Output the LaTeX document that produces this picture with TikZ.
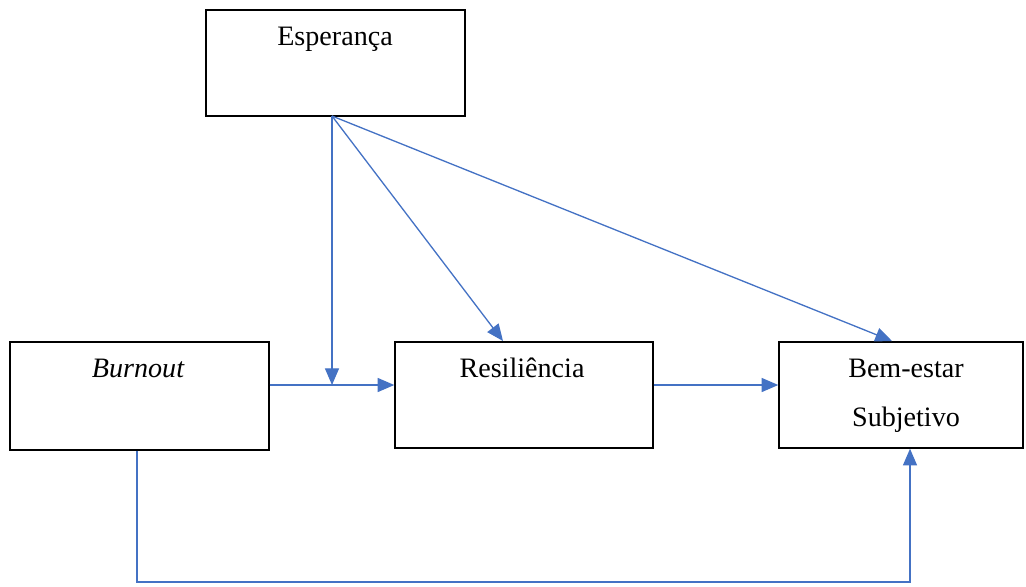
\documentclass[tikz,border=0pt]{standalone}
\usepackage{fontspec}
\setmainfont{Liberation Serif}
\usetikzlibrary{arrows.meta}
\definecolor{linkblue}{HTML}{4472C4}
\tikzset{
  box/.style={draw, line width=0.85pt, inner sep=0pt, align=center},
  lbl/.style={anchor=base, inner sep=0pt},
  link/.style={draw=linkblue, line width=0.75pt, -{Triangle[length=9.5pt,width=8pt]}, linkblue},
}
\begin{document}
\begin{tikzpicture}[x=0.02cm, y=-0.02cm, font=\fontsize{16}{28}\selectfont]
\useasboundingbox (0,0) rectangle (1026,586);
\node[box, minimum width=5.18cm, minimum height=2.12cm] (esp) at (335.5,63) {};
\node[box, minimum width=5.18cm, minimum height=2.16cm] (burn) at (139.5,396) {};
\node[box, minimum width=5.16cm, minimum height=2.12cm] (res) at (524,395) {};
\node[box, minimum width=4.88cm, minimum height=2.12cm] (bem) at (901,395) {};

\node[lbl] (espT) at (335,45) {Esperança};
\node[lbl] (burnT) at (138,377) {\itshape Burnout};
\node[lbl] (resT) at (522,377) {Resiliência};
\node[lbl] (bemT) at (906,377) {Bem-estar};
\node[lbl] (subT) at (906,426) {Subjetivo};

\coordinate (src) at (332,116);
\coordinate (join) at (332,385);
\coordinate (low) at (137,582);

\draw[link] (src) -- (join);
\draw[link] (src) -- (503,341);
\draw[link] (src) -- (892,341);
\draw[link] (burn.east |- join) -- (res.west |- join);
\draw[link] (res.east |- join) -- (bem.west |- join);
\draw[link] (burn.south -| low) -- (low) -| ([xshift=0.18cm]bem.south);
\end{tikzpicture}
\end{document}
